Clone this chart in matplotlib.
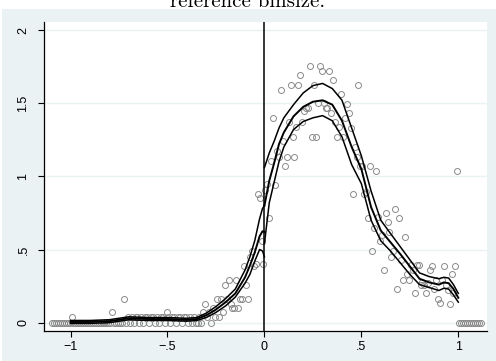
import matplotlib
matplotlib.use('Agg')
import matplotlib.pyplot as plt
import numpy as np

binsize = 0.01

# binned means, outside the window (x < -1 and x > 1)
left_far_y = [0, 0, 0, 0, 0, 0, 0, 0, 0, 0]
right_far_y = [0, 0, 0, 0, 0, 0, 0, 0, 0, 0, 0, 0]

# binned means for -1 <= x < 0
left_y = [0.036, 0, 0, 0, 0, 0, 0, 0, 0, 0,
          0, 0, 0, 0, 0, 0, 0, 0, 0, 0,
          0, 0.07, 0, 0, 0, 0, 0, 0.165, 0, 0.036,
          0, 0.036, 0, 0.036, 0.036, 0, 0.036, 0, 0.036, 0.036,
          0, 0.036, 0.036, 0, 0.036, 0, 0.036, 0.036, 0, 0.07,
          0.036, 0, 0.036, 0.036, 0, 0.036, 0.036, 0, 0.036, 0.036,
          0, 0.036, 0, 0.036, 0,
          0.0, 0.036, 0.0, 0.07, 0.13, 0.036, 0.07, 0.0, 0.10, 0.036,
          0.165, 0.036, 0.165, 0.07, 0.26, 0.165, 0.29, 0.13, 0.10, 0.10,
          0.29, 0.10, 0.165, 0.165, 0.39, 0.26, 0.165, 0.45, 0.49, 0.39,
          0.40, 0.88, 0.85, 0.555, 0.40]

# binned means for 0 <= x < 1
right_y = [0.91, 0.95, 0.715, 1.105, 1.40, 0.94, 1.17, 1.135, 1.59, 1.24,
           1.07, 1.135, 1.37, 1.625, 1.27, 1.135, 1.335, 1.625, 1.69, 1.37,
           1.45, 1.465, 1.47, 1.755, 1.27, 1.625, 1.27, 1.50, 1.755, 1.72,
           1.50, 1.465, 1.465, 1.72, 1.43, 1.66, 1.37, 1.27, 1.335, 1.56,
           1.27, 1.40, 1.495, 1.43, 1.33, 0.88, 1.20, 1.135, 1.625, 1.07,
           1.07, 0.88, 0.89, 0.715, 1.07, 0.49, 0.65, 1.04, 0.72, 0.555,
           0.60, 0.36, 0.75, 0.685, 0.62, 0.45, 0.49, 0.78, 0.23, 0.715,
           0.43, 0.29, 0.585, 0.33, 0.29, 0.395, 0.36, 0.20, 0.395, 0.395,
           0.26, 0.28, 0.26, 0.20, 0.27, 0.36, 0.39, 0.23, 0.29, 0.165,
           0.135, 0.29, 0.39, 0.26, 0.22, 0.13, 0.33, 0.20, 0.39, 1.04]

# local polynomial fit with confidence band, left of cutoff
left_fit_x = [-1.0, -0.9, -0.8, -0.75, -0.7, -0.6, -0.5, -0.4, -0.35, -0.3,
              -0.25, -0.2, -0.15, -0.1, -0.075, -0.05, -0.025, -0.01, 0.0]
left_fit = [0.005, 0.005, 0.01, 0.02, 0.03, 0.025, 0.025, 0.02, 0.025, 0.05,
            0.09, 0.14, 0.20, 0.31, 0.39, 0.48, 0.59, 0.625, 0.62]
left_hi = [0.015, 0.015, 0.02, 0.03, 0.04, 0.035, 0.035, 0.03, 0.035, 0.065,
           0.11, 0.165, 0.23, 0.36, 0.45, 0.56, 0.71, 0.78, 0.80]
left_lo = [-0.005, -0.005, 0.0, 0.01, 0.02, 0.015, 0.015, 0.01, 0.015, 0.035,
           0.07, 0.115, 0.175, 0.27, 0.33, 0.42, 0.50, 0.49, 0.45]

# right of cutoff
right_fit_x = [0.0, 0.025, 0.05, 0.075, 0.1, 0.15, 0.2, 0.25, 0.3, 0.35,
               0.4, 0.45, 0.5, 0.55, 0.6, 0.65, 0.7, 0.75, 0.8, 0.85,
               0.9, 0.925, 0.95, 0.975, 1.0]
right_fit = [0.80, 0.97, 1.09, 1.22, 1.30, 1.41, 1.475, 1.51, 1.52, 1.49,
             1.38, 1.20, 1.05, 0.79, 0.63, 0.55, 0.47, 0.385, 0.30, 0.275,
             0.26, 0.275, 0.27, 0.23, 0.17]
right_hi = [1.06, 1.16, 1.24, 1.33, 1.40, 1.49, 1.57, 1.62, 1.635, 1.60,
            1.52, 1.33, 1.14, 0.90, 0.70, 0.61, 0.52, 0.43, 0.34, 0.315,
            0.30, 0.31, 0.305, 0.26, 0.20]
right_lo = [0.54, 0.82, 0.96, 1.10, 1.20, 1.32, 1.375, 1.40, 1.415, 1.38,
            1.27, 1.08, 0.95, 0.70, 0.56, 0.49, 0.41, 0.33, 0.26, 0.24,
            0.22, 0.235, 0.23, 0.19, 0.14]

xticks = [-1, -0.5, 0, 0.5, 1]
xticklabels = ['\u22121', '\u2212.5', '0', '.5', '1']
yticks = [0, 0.5, 1, 1.5, 2]
yticklabels = ['0', '.5', '1', '1.5', '2']

bg = '#eaf2f3'

fig = plt.figure(figsize=(4.96, 3.61), dpi=100, facecolor='white')
# stata style graph region
fig.patches.append(plt.Rectangle((2 / 496, 0), 1, 1 - 9 / 361, transform=fig.transFigure,
                                 facecolor=bg, edgecolor='none', zorder=-1))
# title is clipped at the top edge, like in the source image
fig.text(0.5, 1 - 7 / 361, 'reference binsize.', ha='center', va='baseline',
         fontsize=15, family='cmr10')

ax = fig.add_axes([44 / 496, 30 / 361, 443 / 496, 309 / 361])
ax.set_facecolor('white')

def centers(start, n):
    return start + binsize * (np.arange(n) + 0.5)

pts = dict(marker='o', linestyle='none', markersize=4.3, markerfacecolor='none',
           markeredgecolor='#8a8a8a', markeredgewidth=0.7, zorder=2)
ax.plot(centers(-1.1, len(left_far_y)), left_far_y, **pts)
ax.plot(centers(-1.0, len(left_y)), left_y, **pts)
ax.plot(centers(0.0, len(right_y)), right_y, **pts)
ax.plot(centers(1.0, len(right_far_y)), right_far_y, **pts)

for xs, ys, w in [(left_fit_x, left_fit, 1.4), (left_fit_x, left_hi, 1.1), (left_fit_x, left_lo, 1.1),
                  (right_fit_x, right_fit, 1.4), (right_fit_x, right_hi, 1.1), (right_fit_x, right_lo, 1.1)]:
    ax.plot(xs, ys, color='black', lw=w, zorder=3, solid_joinstyle='round')

ax.axvline(0, color='black', lw=1.1, zorder=4)

ax.set_xlim(-1.137, 1.148)
ax.set_ylim(-0.057, 2.055)
ax.set_xticks(xticks)
ax.set_xticklabels(xticklabels, fontsize=9, family='Liberation Sans')
ax.set_yticks(yticks)
ax.set_yticklabels(yticklabels, fontsize=9, family='Liberation Sans', rotation=90, va='center')
ax.grid(axis='y', color=bg, lw=1.0, zorder=0)
ax.set_axisbelow(True)
for s in ['top', 'right']:
    ax.spines[s].set_visible(False)
for s in ['left', 'bottom']:
    ax.spines[s].set_color('black')
    ax.spines[s].set_linewidth(0.9)
ax.tick_params(direction='out', length=4.5, width=0.8)
ax.tick_params(axis='x', pad=3)
ax.tick_params(axis='y', pad=6)

fig.savefig('out.png', dpi=100, facecolor='white')
